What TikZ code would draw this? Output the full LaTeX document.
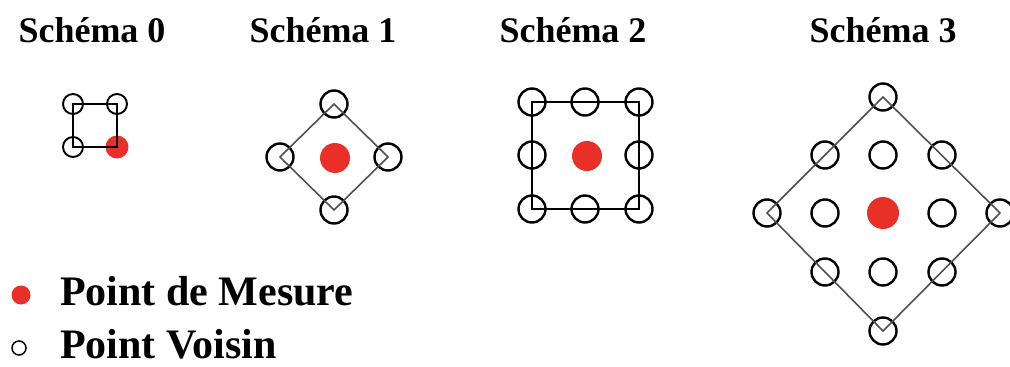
\documentclass[tikz,border=0pt]{standalone}
\usepackage{fontspec}
\setmainfont{Liberation Serif}
\usepackage{tikz}
\usetikzlibrary{positioning,calc}
\usepackage{xcolor}
\definecolor{rougemes}{RGB}{232,48,40}
\definecolor{trait}{RGB}{80,80,80}

\begin{document}
\begin{tikzpicture}[x=1pt,y=-1pt,
  voisin/.style={circle,draw,line width=2.4pt,minimum size=27pt,inner sep=0pt},
  petitvoisin/.style={voisin,minimum size=20pt,line width=1.9pt},
  mesure/.style={circle,fill=rougemes,minimum size=30pt,inner sep=0pt},
  titre/.style={anchor=base,inner sep=0pt,font=\fontsize{36}{40}\selectfont\bfseries},
  legende/.style={anchor=base west,inner sep=0pt,font=\fontsize{42}{46}\selectfont\bfseries},
  cote/.style={draw=trait,line width=1.6pt}]
  \useasboundingbox (0,0) rectangle (1010,367);

  % titres
  \node[titre] (t0) at (92,42) {Schéma 0};
  \node[titre] (t1) at (323,42) {Schéma 1};
  \node[titre] (t2) at (573,42) {Schéma 2};
  \node[titre] (t3) at (883,42) {Schéma 3};

  % schema 0
  \node[petitvoisin] (a1) at (73,104) {};
  \node[petitvoisin] (a2) at (117,104) {};
  \node[petitvoisin] (a3) at (73,147) {};
  \node[mesure,minimum size=23pt] (a0) at (117,147) {};
  \draw[cote,draw=black] (a1.center) -- (a2.center) -- (a0.center) -- (a3.center) -- cycle;

  % schema 1
  \node[voisin] (b1) at (334,104) {};
  \node[voisin] (b2) at (280,157) {};
  \node[voisin] (b3) at (388,157) {};
  \node[voisin] (b4) at (334,210) {};
  \node[mesure] (b0) at (335,158) {};
  \draw[cote] (b1.center) -- (b3.center) -- (b4.center) -- (b2.center) -- cycle;

  % schema 2
  \foreach \i/\x in {1/532,2/585,3/639}
    \foreach \j/\y in {1/102,2/155,3/209}
      {\ifnum\i=2 \ifnum\j=2 \else \node[voisin] (c\i\j) at (\x,\y) {};\fi
       \else \node[voisin] (c\i\j) at (\x,\y) {};\fi}
  \node[mesure] (c0) at (587,156) {};
  \draw[cote,draw=black] (c11.center) -- (c31.center) -- (c33.center) -- (c13.center) -- cycle;

  % schema 3
  \node[voisin] (d1) at (883,97) {};
  \node[voisin] (d2) at (825,155) {};
  \node[voisin] (d3) at (883,155) {};
  \node[voisin] (d4) at (942,155) {};
  \node[voisin] (d5) at (767,213) {};
  \node[voisin] (d6) at (825,213) {};
  \node[voisin] (d7) at (942,213) {};
  \node[voisin] (d8) at (1000,213) {};
  \node[voisin] (d9) at (825,272) {};
  \node[voisin] (d10) at (883,272) {};
  \node[voisin] (d11) at (942,272) {};
  \node[voisin] (d12) at (883,331) {};
  \node[mesure,minimum size=32pt] (d0) at (883,213) {};
  \draw[cote] (d1.center) -- (d8.center) -- (d12.center) -- (d5.center) -- cycle;

  % legende
  \node[mesure,minimum size=19pt] (lm) at (21,295) {};
  \node[circle,draw,line width=1.5pt,minimum size=14pt,inner sep=0pt] (lv) at (19,348) {};
  \node[legende] (txm) at (60,305) {Point de Mesure};
  \node[legende] (txv) at (60,358) {Point Voisin};
\end{tikzpicture}
\end{document}
